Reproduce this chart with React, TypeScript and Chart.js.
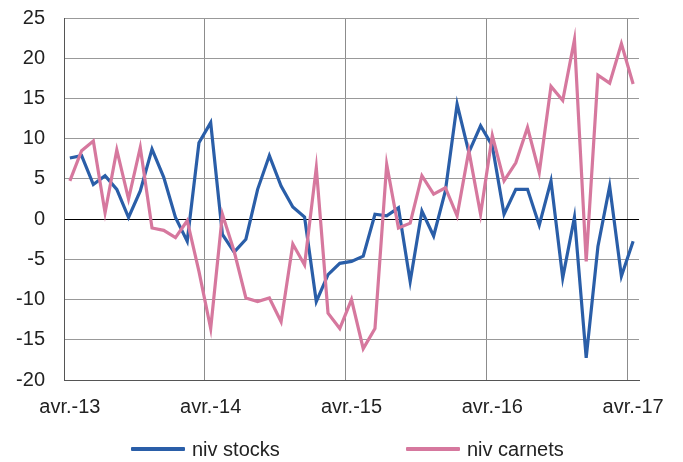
import React, { useEffect, useRef } from "react";
import { Chart, registerables } from "chart.js";

Chart.register(...registerables);

const MONTHS = ["janv.", "févr.", "mars", "avr.", "mai", "juin", "juil.", "août", "sept.", "oct.", "nov.", "déc."];
const START_YEAR = 13;
const START_MONTH = 3; // avr.
const N_POINTS = 49;

const categories: string[] = [];
for (let i = 0; i < N_POINTS; i++) {
  const m = (START_MONTH + i) % 12;
  const y = START_YEAR + Math.floor((START_MONTH + i) / 12);
  categories.push(`${MONTHS[m]}-${y}`);
}

const nivStocks = [
  7.6, 7.9, 4.3, 5.4, 3.7, 0.2, 3.5, 8.7, 5.2, 0.2, -2.75, 9.5,
  12.0, -1.9, -4.1, -2.5, 3.7, 7.9, 4.1, 1.5, 0.25, -10.25, -6.9, -5.5,
  -5.25, -4.6, 0.6, 0.4, 1.4, -7.75, 1.0, -2.1, 3.5, 14.3, 8.3, 11.6,
  9.1, 0.6, 3.7, 3.7, -0.75, 4.75, -7.3, 0.25, -17.25, -3.4, 4.1, -7.1,
  -2.75,
];

const nivCarnets = [
  4.75, 8.5, 9.7, 0.8, 8.6, 2.5, 8.9, -1.1, -1.4, -2.3, -0.2, -6.5,
  -13.6, 0.6, -4.0, -9.8, -10.25, -9.8, -12.75, -3.1, -5.7, 6.4, -11.7, -13.6,
  -10.0, -16.1, -13.6, 6.8, -1.1, -0.5, 5.4, 3.1, 3.9, 0.4, 8.5, 0.6,
  10.4, 4.75, 7.0, 11.4, 5.8, 16.5, 14.75, 22.3, -5.25, 17.9, 16.9, 21.8,
  16.8,
];

const seriesNames = ["niv stocks", "niv carnets"];
const seriesColors = ["#2A5EA8", "#D6789E"];
const Y_MIN = -20;
const Y_MAX = 25;
const Y_STEP = 5;

const FONT = "'Liberation Sans', Arial, sans-serif";

export default function App() {
  const ref = useRef<HTMLCanvasElement | null>(null);

  useEffect(() => {
    if (!ref.current) return;
    const chart = new Chart(ref.current, {
      type: "line",
      data: {
        labels: categories,
        datasets: [
          {
            label: seriesNames[0],
            data: nivStocks,
            borderColor: seriesColors[0],
            backgroundColor: seriesColors[0],
            borderWidth: 3.2,
            pointRadius: 0,
            tension: 0,
            order: 1,
          },
          {
            label: seriesNames[1],
            data: nivCarnets,
            borderColor: seriesColors[1],
            backgroundColor: seriesColors[1],
            borderWidth: 3.2,
            pointRadius: 0,
            tension: 0,
            order: 0,
          },
        ],
      },
      options: {
        responsive: false,
        animation: false,
        devicePixelRatio: 1,
        layout: { padding: { top: 0, right: 44, bottom: 28, left: 0 } },
        plugins: {
          legend: { display: false },
          tooltip: { enabled: false },
        },
        scales: {
          x: {
            type: "category",
            offset: true,
            grid: {
              offset: true,
              drawTicks: false,
              lineWidth: 1,
              color: (ctx: any) =>
                ctx.type === "tick" && ctx.index > 0 && ctx.index % 12 === 0 ? "#8c8c8c" : "rgba(0,0,0,0)",
            },
            border: { display: true, color: "#555", width: 1 },
            ticks: {
              autoSkip: false,
              maxRotation: 0,
              minRotation: 0,
              padding: 15,
              color: "#222",
              font: { family: FONT, size: 20 },
              callback: (_v: any, index: number) => (index % 12 === 0 ? `avr.-${START_YEAR + index / 12}` : ""),
            },
          },
          y: {
            min: Y_MIN,
            max: Y_MAX,
            afterFit: (scale: any) => {
              scale.width = 64;
            },
            grid: {
              drawTicks: true,
              tickLength: 13,
              tickColor: "rgba(0,0,0,0)",
              lineWidth: 1,
              color: (ctx: any) => (ctx.tick && ctx.tick.value === 0 ? "#000" : "#999"),
            },
            border: { display: true, color: "#555", width: 1 },
            ticks: {
              stepSize: Y_STEP,
              padding: 6,
              color: "#222",
              font: { family: FONT, size: 20 },
            },
          },
        },
      },
    });
    return () => chart.destroy();
  }, []);

  const legendItem = (i: number, lineLeft: number) => (
    <div key={i}>
      <div
        style={{
          position: "absolute",
          left: lineLeft,
          top: 447,
          width: 54,
          height: 4,
          background: seriesColors[i],
          borderRadius: 1,
        }}
      />
      <div
        style={{
          position: "absolute",
          left: lineLeft + 61,
          top: 437,
          height: 24,
          lineHeight: "24px",
          fontFamily: FONT,
          fontSize: 20,
          color: "#222",
          whiteSpace: "nowrap",
        }}
      >
        {seriesNames[i]}
      </div>
    </div>
  );

  return (
    <div style={{ position: "fixed", left: 0, top: 0, width: 683, height: 462, background: "#fff" }}>
      <canvas ref={ref} width={683} height={462} style={{ display: "block" }} />
      {legendItem(0, 131)}
      {legendItem(1, 406)}
    </div>
  );
}
